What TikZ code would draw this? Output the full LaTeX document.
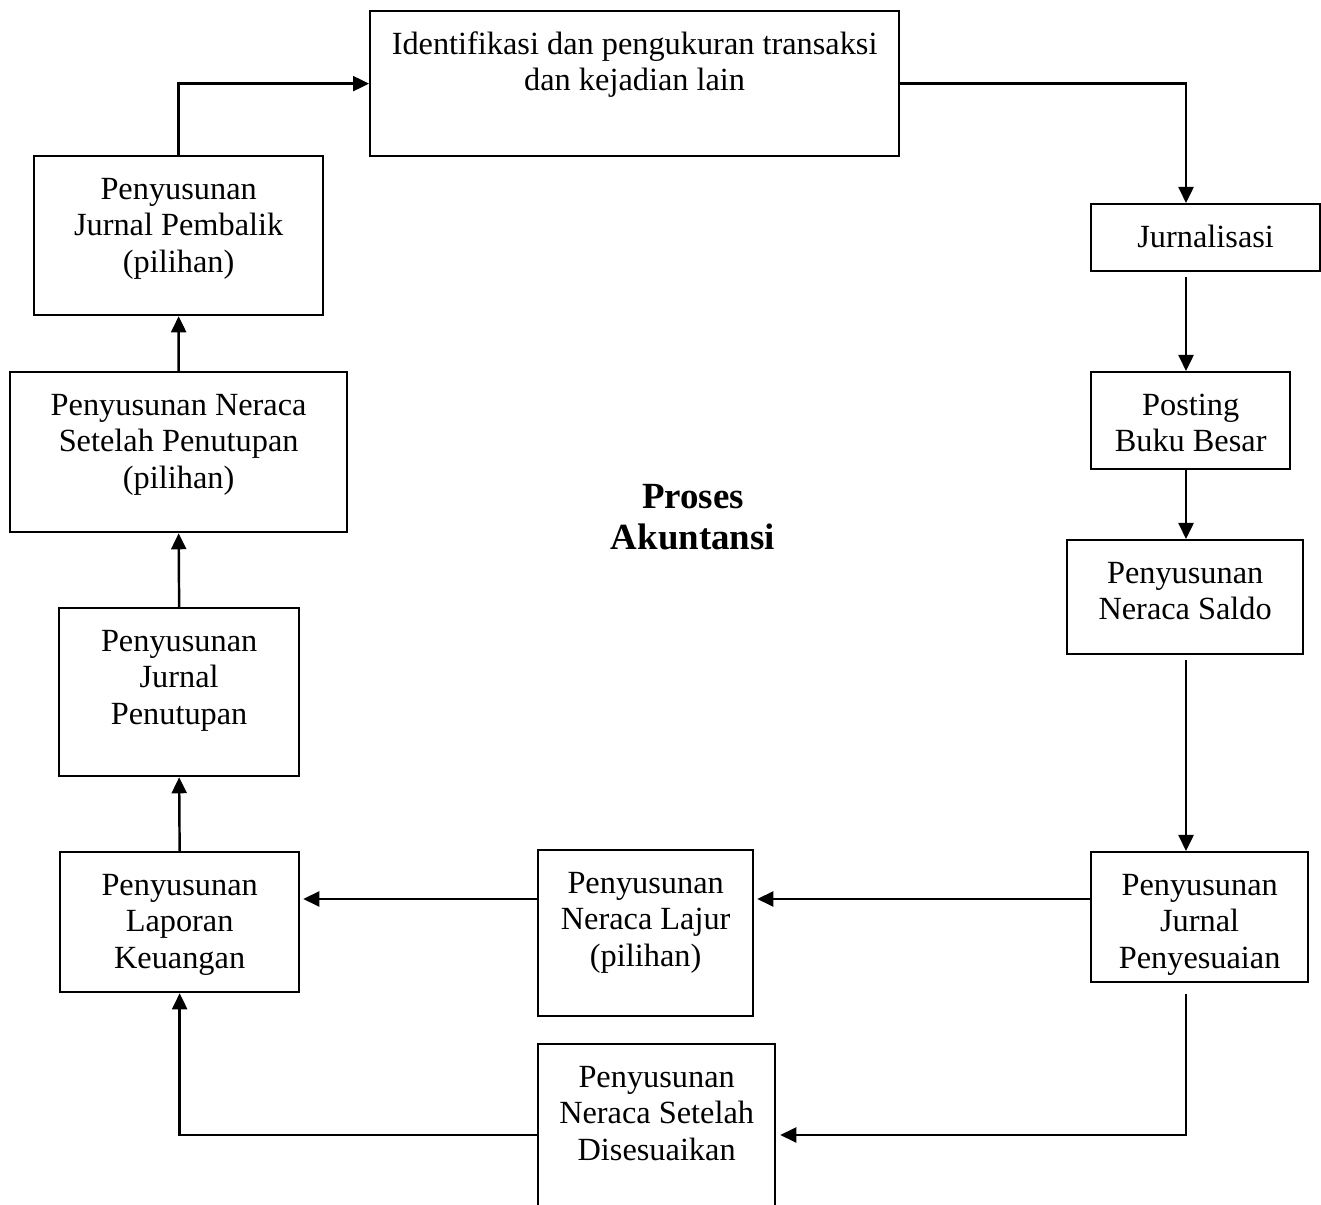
\documentclass[tikz,border=0pt]{standalone}
\usepackage{fontspec}
\setmainfont{Liberation Serif}
\usepackage{tikz}
\usetikzlibrary{arrows.meta,calc,positioning}
% box text: width, height, lines (text sits at the top of the box)
\newcommand{\boxtext}[3]{\parbox[t][\dimexpr#2-0.7cm\relax][t]{#1}{\centering\strut #3}}
\tikzset{
  stepbox/.style={
    draw=black,
    line width=1.3pt,
    inner xsep=0pt,
    inner ysep=0.35cm,
    anchor=north west,
    font=\fontsize{18.4}{20.8}\selectfont
  },
  arrow/.style={-{Triangle[length=3.2mm,width=3mm]},draw=black,line width=1.4pt},
  titletext/.style={align=center,font=\bfseries\fontsize{21}{23.5}\selectfont}
}

\begin{document}
\begin{tikzpicture}[x=1cm,y=1cm]
  \useasboundingbox (0,0) rectangle (26.42,24.08);

  % Right column: from the source data down to the adjusting entries.
  \node[stepbox] (ident)    at (7.38,23.88) {\boxtext{10.58cm}{2.9cm}{Identifikasi dan pengukuran transaksi\\dan kejadian lain}};
  \node[stepbox] (jurnal)   at (21.8,20.02) {\boxtext{4.58cm}{1.34cm}{Jurnalisasi}};
  \node[stepbox] (posting)  at (21.8,16.66) {\boxtext{3.98cm}{1.94cm}{Posting\\Buku Besar}};
  \node[stepbox] (saldo)    at (21.32,13.3) {\boxtext{4.72cm}{2.28cm}{Penyusunan\\Neraca Saldo}};
  \node[stepbox] (sesuai)   at (21.8,7.06)  {\boxtext{4.34cm}{2.6cm}{Penyusunan\\Jurnal\\Penyesuaian}};

  % Bottom row, right to left.
  \node[stepbox] (lajur)    at (10.74,7.1)  {\boxtext{4.3cm}{3.32cm}{Penyusunan\\Neraca Lajur\\(pilihan)}};
  \node[stepbox] (disesuai) at (10.74,3.22) {\boxtext{4.74cm}{3.44cm}{Penyusunan\\Neraca Setelah\\Disesuaikan}};
  \node[stepbox] (laporan)  at (1.18,7.06)  {\boxtext{4.78cm}{2.8cm}{Penyusunan\\Laporan\\Keuangan}};

  % Left column, going back up.
  \node[stepbox] (tutup)    at (1.16,11.94) {\boxtext{4.8cm}{3.36cm}{Penyusunan\\Jurnal\\Penutupan}};
  \node[stepbox] (nstutup)  at (0.18,16.66) {\boxtext{6.74cm}{3.2cm}{Penyusunan Neraca\\Setelah Penutupan\\(pilihan)}};
  \node[stepbox] (pembalik) at (0.66,20.98) {\boxtext{5.78cm}{3.18cm}{Penyusunan\\Jurnal Pembalik\\(pilihan)}};

  \node[titletext] (title) at (13.86,13.74) {Proses\\Akuntansi};

  \coordinate (rcol) at (23.72,0);
  \coordinate (mrow) at (0,6.1);
  \coordinate (brow) at (0,1.38);

  \draw[arrow] (pembalik.north) |- (ident.west);
  \draw[arrow] (ident.east) -| (jurnal.north -| rcol);
  \draw[arrow,shorten <=0.1cm] (jurnal.south -| rcol) -- (posting.north -| rcol);
  \draw[arrow] (posting.south -| rcol) -- (saldo.north -| rcol);
  \draw[arrow,shorten <=0.1cm] (saldo.south -| rcol) -- (sesuai.north -| rcol);

  \draw[arrow,shorten >=0.06cm] (sesuai.west |- mrow) -- (lajur.east |- mrow);
  \draw[arrow,shorten >=0.06cm] (lajur.west |- mrow) -- (laporan.east |- mrow);
  \draw[arrow,shorten <=0.22cm,shorten >=0.08cm] (sesuai.south -| rcol) |- (disesuai.east |- brow);
  \draw[arrow] (disesuai.west |- brow) -| (laporan.south);

  \draw[arrow] (laporan.north) -- (tutup.south);
  \draw[arrow] (tutup.north) -- (nstutup.south);
  \draw[arrow] (nstutup.north) -- (pembalik.south);
\end{tikzpicture}
\end{document}
